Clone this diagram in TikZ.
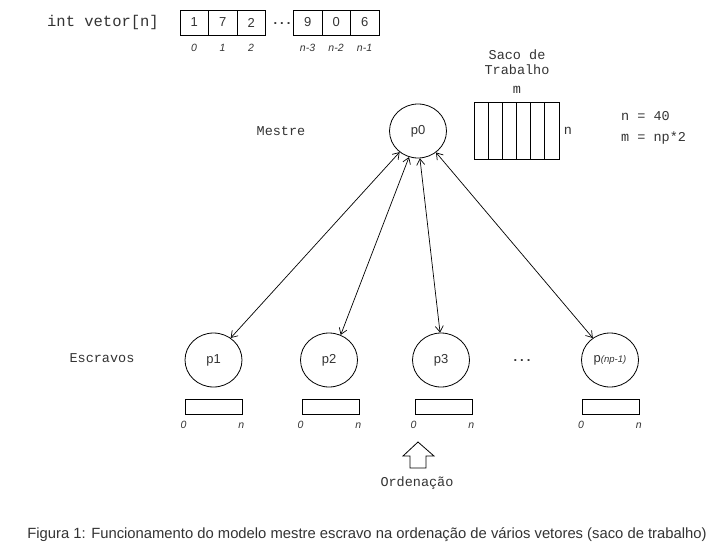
\documentclass[tikz,border=0pt]{standalone}
\usepackage{fontspec}
\setmainfont{Liberation Sans}
\setsansfont{Liberation Sans}
\setmonofont{Liberation Mono}
\usetikzlibrary{shapes.geometric,arrows.meta}
\definecolor{txt}{HTML}{333333}
\tikzset{
  proc/.style={draw, line width=0.8pt, ellipse, minimum width=57pt, minimum height=54pt, inner sep=0pt, font=\fontsize{13}{15}\selectfont, text=txt},
  cell/.style={draw, line width=0.8pt, minimum width=28.5pt, minimum height=25pt, inner sep=0pt, font=\fontsize{13}{15}\selectfont, text=txt},
  bagcell/.style={draw, line width=0.8pt, minimum width=14.17pt, minimum height=57pt, inner sep=0pt},
  sortbox/.style={draw, line width=0.8pt, minimum width=57pt, minimum height=15pt, inner sep=0pt},
  idx/.style={font=\fontsize{10.5}{12}\selectfont\itshape, text=txt, inner sep=0pt},
  mono/.style={font=\ttfamily\fontsize{13.5}{15}\selectfont, text=txt, inner sep=0pt},
  dotsx/.style={font=\bfseries\fontsize{13}{15}\selectfont, text=txt, inner sep=0pt, anchor=base},
  link/.style={{Straight Barb[length=6pt,width=8pt]}-{Straight Barb[length=6pt,width=8pt]}, line width=0.7pt},
}
\begin{document}
\begin{tikzpicture}[x=1pt,y=-1pt]
\useasboundingbox (0,0) rectangle (725,554);
% array
\node[mono, font=\ttfamily\fontsize{15.5}{17}\selectfont] (decl) at (103,22) {int vetor[n]};
\node[cell] (a0) at (194.25,22.5) {1};
\node[cell] (a1) at (222.75,22.5) {7};
\node[cell] (a2) at (251.25,22.5) {2};
\node[dotsx] (adots) at (282,24) {.\hspace{3pt}.\hspace{3pt}.};
\node[cell] (b0) at (307.75,22.5) {9};
\node[cell] (b1) at (336.25,22.5) {0};
\node[cell] (b2) at (364.75,22.5) {6};
\node[idx, anchor=base] (i0) at (194,51) {0};
\node[idx, anchor=base] (i1) at (222.5,51) {1};
\node[idx, anchor=base] (i2) at (251,51) {2};
\node[idx, anchor=base] (i3) at (307.5,51) {n-3};
\node[idx, anchor=base] (i4) at (336,51) {n-2};
\node[idx, anchor=base] (i5) at (364.5,51) {n-1};
% master
\node[mono] (mestre) at (281,131) {Mestre};
\node[proc] (p0) at (418,131) {p0};
% bag
\node[mono, align=center] (saco) at (517,62) {Saco de\\[0pt]Trabalho};
\node[mono] (bm) at (517,90) {m};
\foreach \k in {0,...,5}{
  \node[bagcell] (s\k) at ({474+7.085+14.17*\k},130.5) {};
}
\node[mono] (bn) at (568,131) {n};
\node[mono, anchor=west] (eq1) at (621,116) {n = 40};
\node[mono, anchor=west] (eq2) at (621,138) {m = np*2};
% slaves
\node[mono] (escravos) at (102,358) {Escravos};
\node[proc] (p1) at (213.5,360) {p1};
\node[proc] (p2) at (329,360) {p2};
\node[proc] (p3) at (441,360) {p3};
\node[dotsx] (sdots) at (522,361) {.\hspace{3pt}.\hspace{3pt}.};
\node[proc] (p4) at (610,360) {p\textit{\fontsize{9.5}{10}\selectfont(np-1)}};
\foreach \n/\x in {1/213.5,2/330.5,3/443.5,4/611}{
  \node[sortbox] (r\n) at (\x,406.5) {};
  \node[idx, anchor=base] (z\n) at ([xshift=-1pt]r\n.south west |- 0,428) {0};
  \node[idx, anchor=base] (e\n) at ([xshift=-1pt]r\n.south east |- 0,428) {n};
}
% links
\draw[link] (p0.229) -- (p1.52);
\draw[link] (p0.251) -- (p2.65);
\draw[link] (p0.274) -- (p3.92);
\draw[link] (p0.310) -- (p4.128);
% sort arrow
\coordinate (tip) at (418,442);
\draw[line width=0.8pt] (tip) -- ++(16,14) -- ++(-8,0) -- ++(0,12) -- ++(-16,0) -- ++(0,-12) -- ++(-7,0) -- cycle;
\node[mono] (ord) at (417,483) {Ordenação};
% caption
\node[font=\fontsize{14.8}{17}\selectfont, text=txt] (cap) at (367,535) {Figura 1: Funcionamento do modelo mestre escravo na ordenação de vários vetores (saco de trabalho)};
\end{tikzpicture}
\end{document}
